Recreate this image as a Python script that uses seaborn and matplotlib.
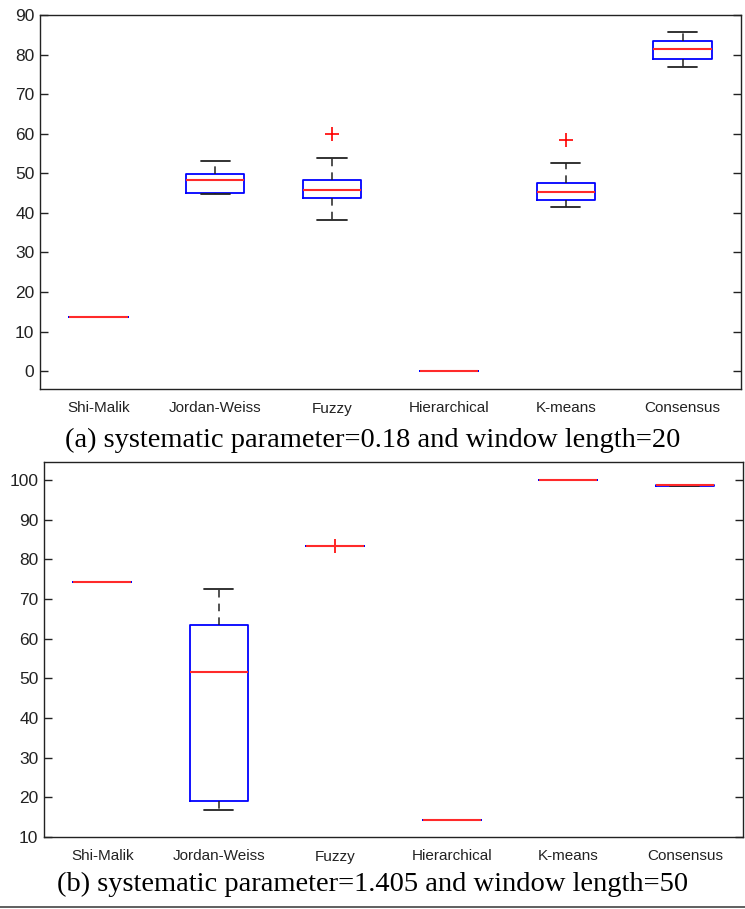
import numpy as np
import pandas as pd
import matplotlib
matplotlib.use("Agg")
import matplotlib.pyplot as plt
from matplotlib.lines import Line2D
import seaborn as sns

# method names (x axis)
methods = ["Shi-Malik", "Jordan-Weiss", "Fuzzy", "Hierarchical", "K-means", "Consensus"]

# (a) systematic parameter=0.18, window length=20  -- accuracy per run
a_shi_malik = [13.8, 13.8, 13.8, 13.8, 13.8, 13.8, 13.8, 13.8, 13.8]
a_jordan_weiss = [44.8, 45.0, 45.1, 46.5, 48.3, 49.0, 49.8, 51.5, 53.2]
a_fuzzy = [38.1, 43.8, 43.8, 45.0, 45.7, 47.0, 48.3, 53.8, 59.9]
a_hierarchical = [0.0, 0.0, 0.0, 0.0, 0.0, 0.0, 0.0, 0.0, 0.0]
a_kmeans = [41.4, 42.5, 43.3, 44.5, 45.4, 46.5, 47.5, 52.6, 58.4]
a_consensus = [76.9, 78.0, 79.0, 80.5, 81.4, 82.5, 83.5, 84.5, 85.6]

# (b) systematic parameter=1.405, window length=50
b_shi_malik = [74.3, 74.3, 74.3, 74.3, 74.3, 74.3, 74.3, 74.3, 74.3]
b_jordan_weiss = [16.8, 18.0, 19.1, 35.0, 51.6, 58.0, 63.4, 68.0, 72.5]
b_fuzzy = [83.4, 83.4, 83.4, 83.4, 83.4, 83.4, 83.4, 83.4, 83.45]
b_hierarchical = [14.3, 14.3, 14.3, 14.3, 14.3, 14.3, 14.3, 14.3, 14.3]
b_kmeans = [100.0, 100.0, 100.0, 100.0, 100.0, 100.0, 100.0, 100.0, 100.0]
b_consensus = [98.5, 98.5, 98.5, 98.6, 98.8, 98.8, 98.8, 98.8, 98.8]

top_ticks = [0, 10, 20, 30, 40, 50, 60, 70, 80, 90]
bottom_ticks = [10, 20, 30, 40, 50, 60, 70, 80, 90, 100]

caption_a = "(a) systematic parameter=0.18 and window length=20"
caption_b = "(b) systematic parameter=1.405 and window length=50"


def to_long(groups):
    rows = []
    for name, vals in zip(methods, groups):
        for v in vals:
            rows.append({"method": name, "score": v})
    return pd.DataFrame(rows)


def draw_box(ax, df, ylim, yticks):
    sns.boxplot(data=df, x="method", y="score", order=methods, ax=ax,
                width=0.5, fill=False, whis=1.5,
                boxprops=dict(color="blue", linewidth=1.3),
                medianprops=dict(color="#ff2a2a", linewidth=1.5),
                whiskerprops=dict(color="#222222", linewidth=1.1, linestyle=(0, (5, 4))),
                capprops=dict(color="#222222", linewidth=1.3),
                flierprops=dict(marker="+", markeredgecolor="red", markerfacecolor="none",
                                markersize=10, markeredgewidth=1.2))
    ax.set_ylim(*ylim)
    ax.set_yticks(yticks)
    ax.set_xlabel("")
    ax.set_ylabel("")
    ax.tick_params(axis="y", direction="in", left=True, right=True, length=6,
                   width=1, labelsize=12.5, colors="#222222", pad=4)
    ax.tick_params(axis="x", length=0, labelsize=11, colors="#222222", pad=9)
    for s in ax.spines.values():
        s.set_visible(True)
        s.set_color("#222222")
        s.set_linewidth(1.0)


sns.set_theme(style="white")
plt.rcParams["font.family"] = ["Liberation Sans", "DejaVu Sans"]

fig = plt.figure(figsize=(7.45, 9.09), dpi=100)
ax_top = fig.add_axes([40 / 745, 1 - 389 / 909, 701 / 745, 374 / 909])
ax_bot = fig.add_axes([44 / 745, 1 - 837 / 909, 699 / 745, 375 / 909])

df_a = to_long([a_shi_malik, a_jordan_weiss, a_fuzzy, a_hierarchical, a_kmeans, a_consensus])
df_b = to_long([b_shi_malik, b_jordan_weiss, b_fuzzy, b_hierarchical, b_kmeans, b_consensus])

draw_box(ax_top, df_a, (-4.5, 90), top_ticks)
draw_box(ax_bot, df_b, (10, 104.5), bottom_ticks)

fig.text(0.5, 1 - 440 / 909, caption_a, ha="center", va="center",
         family="Liberation Serif", fontsize=20.5, color="black")
fig.text(0.5, 1 - 884 / 909, caption_b, ha="center", va="center",
         family="Liberation Serif", fontsize=20.5, color="black")

# thin rule along the bottom edge
fig.add_artist(Line2D([0, 1], [1 - 907 / 909] * 2, color="#444444", linewidth=1.2))

fig.savefig("out.png", dpi=100)
